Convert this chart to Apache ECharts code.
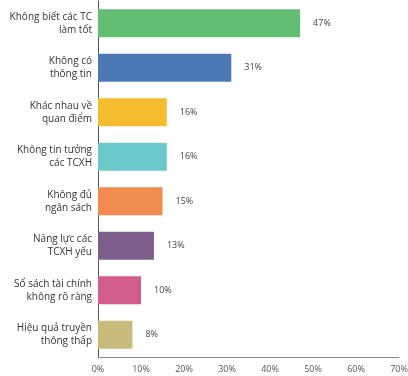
<!DOCTYPE html>
<html>
<head>
<meta charset="utf-8">
<script src="https://cdn.jsdelivr.net/npm/echarts@6/dist/echarts.min.js"></script>
<style>
  html, body { margin: 0; padding: 0; background: #fff; }
  #chart { width: 408px; height: 376px; }
</style>
</head>
<body>
<div id="chart"></div>
<script>
// Reasons, top to bottom
const categories = [
  'Không biết các TC\nlàm tốt',
  'Không có\nthông tin',
  'Khác nhau về\nquan điểm',
  'Không tin tưởng\ncác TCXH',
  'Không đủ\nngân sách',
  'Năng lực các\nTCXH yếu',
  'Sổ sách tài chính\nkhông rõ ràng',
  'Hiệu quả truyền\nthông thấp'
];
const values = [47, 31, 16, 16, 15, 13, 10, 8];
const barColors = ['#61bd72', '#4d7ab7', '#f6bc2f', '#6bc9cc', '#f28b4f', '#7c5d8c', '#d25d8d', '#c9bb7c'];
const xTicks = [0, 10, 20, 30, 40, 50, 60, 70];

const GRID_LEFT = 98;
const LABEL_GAP = 6;
const LINE_HEIGHT = 13;

const chart = echarts.init(document.getElementById('chart'));
chart.setOption({
  animation: false,
  textStyle: { fontFamily: 'Open Sans' },
  grid: { left: GRID_LEFT, right: 9, top: 1, bottom: 19, containLabel: false, outerBoundsMode: 'none' },
  xAxis: {
    type: 'value',
    min: xTicks[0],
    max: xTicks[xTicks.length - 1],
    interval: 10,
    axisLine: { show: true, lineStyle: { color: '#888', width: 1 } },
    axisTick: { show: false },
    splitLine: { show: false },
    axisLabel: { formatter: '{value}%', color: '#555', fontSize: 9, margin: 8 }
  },
  yAxis: {
    type: 'category',
    inverse: true,
    data: categories,
    axisLine: { show: true, lineStyle: { color: '#555', width: 1 } },
    axisTick: { show: false },
    axisLabel: { show: false }
  },
  series: [{
    type: 'bar',
    data: values.map((v, i) => ({ value: v, itemStyle: { color: barColors[i] } })),
    barWidth: '63%',
    label: {
      show: true,
      position: 'right',
      distance: 13,
      formatter: '{c}%',
      color: '#444',
      fontSize: 9
    }
  }]
});

// Category names: each line right-aligned against the axis, centred on its band.
const labelElements = [];
categories.forEach((cat, i) => {
  const bandY = chart.convertToPixel({ yAxisIndex: 0 }, i);
  const lines = cat.split('\n');
  lines.forEach((line, j) => {
    labelElements.push({
      type: 'text',
      x: GRID_LEFT - LABEL_GAP,
      y: bandY + (j - (lines.length - 1) / 2) * LINE_HEIGHT,
      silent: true,
      style: {
        text: line,
        fill: '#333',
        font: '10px "Open Sans"',
        align: 'right',
        verticalAlign: 'middle',
        textAlign: 'right',
        textVerticalAlign: 'middle'
      }
    });
  });
});
chart.setOption({ graphic: labelElements });
</script>
</body>
</html>
